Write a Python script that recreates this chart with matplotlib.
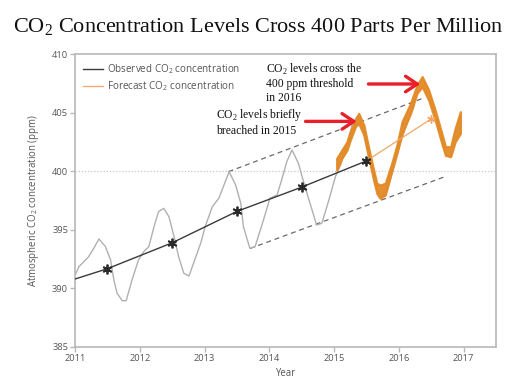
import matplotlib
matplotlib.use("Agg")
import matplotlib.pyplot as plt

# ---------------- data ----------------
obs_t = [2011.00, 2011.06, 2011.21, 2011.29, 2011.37, 2011.47, 2011.55, 2011.60, 2011.65,
         2011.73, 2011.79, 2011.88, 2011.98, 2012.06, 2012.14, 2012.22, 2012.29, 2012.37,
         2012.45, 2012.53, 2012.60, 2012.68, 2012.76, 2012.83, 2012.94, 2013.01, 2013.12,
         2013.22, 2013.30, 2013.38, 2013.48, 2013.56, 2013.60, 2013.70, 2013.78, 2013.91,
         2014.01, 2014.12, 2014.19, 2014.27, 2014.35, 2014.45, 2014.55, 2014.66, 2014.73,
         2014.81, 2014.92, 2015.02, 2015.10, 2015.20, 2015.28, 2015.35, 2015.43, 2015.53,
         2015.64, 2015.71, 2015.82, 2015.92, 2016.02, 2016.13, 2016.23]
obs_ppm = [391.1, 391.85, 392.70, 393.42, 394.22, 393.56, 392.42, 390.72, 389.58,
           388.95, 388.95, 390.72, 392.42, 393.13, 393.56, 395.27, 396.55, 396.83,
           396.12, 394.41, 392.70, 391.29, 391.06, 392.14, 393.85, 395.27, 396.97,
           397.69, 398.82, 399.96, 398.82, 397.26, 395.27, 393.42, 393.56, 395.84,
           397.69, 397.97, 399.25, 400.81, 401.81, 400.67, 398.68, 396.69, 395.41,
           395.55, 397.54, 399.53, 400.53, 402.38, 403.94, 404.65, 403.80, 401.53,
           399.25, 397.69, 398.40, 400.38, 402.38, 404.09, 405.50]

trend_t = [2011.0, 2011.5, 2012.5, 2013.5, 2014.5, 2015.5]
trend_ppm = [390.8, 391.68, 393.89, 396.57, 398.64, 400.88]

fc_trend_t = [2015.5, 2016.49]
fc_trend_ppm = [400.88, 404.43]

band_t = [2015.04, 2015.12, 2015.20, 2015.25, 2015.33, 2015.38, 2015.46, 2015.53, 2015.61,
          2015.66, 2015.71, 2015.79, 2015.89, 2015.97, 2016.05, 2016.18, 2016.28, 2016.36,
          2016.46, 2016.56, 2016.67, 2016.72, 2016.80, 2016.87, 2016.95]
band_hi = [401.10, 401.81, 402.52, 403.37, 404.37, 404.94, 403.94, 402.09, 400.10,
           398.97, 398.82, 398.97, 400.67, 402.24, 404.23, 405.79, 407.35, 408.07,
           406.93, 405.22, 403.09, 402.09, 402.09, 403.66, 405.08]
band_lo = [400.10, 401.10, 401.81, 402.66, 403.80, 404.08, 403.09, 401.24, 399.25,
           398.11, 397.69, 397.97, 399.96, 401.52, 403.23, 404.94, 406.64, 407.21,
           406.08, 404.37, 402.24, 401.35, 401.24, 402.52, 403.23]

upper_t = [2013.37, 2016.37]
upper_ppm = [399.96, 406.22]
lower_t = [2013.70, 2016.72]
lower_ppm = [393.40, 399.55]

xticks = [2011, 2012, 2013, 2014, 2015, 2016, 2017]
yticks = [385, 390, 395, 400, 405, 410]

arrow1_from = (2014.56, 404.25)
arrow1_to = (2015.35, 404.25)
arrow2_from = (2015.53, 407.44)
arrow2_to = (2016.33, 407.44)

title = "CO$_\\mathregular{2}$ Concentration Levels Cross 400 Parts Per Million"
note1 = "CO$_\\mathregular{2}$ levels cross the\n400 ppm threshold\nin 2016"
note2 = "CO$_\\mathregular{2}$ levels briefly\nbreached in 2015"

# ---------------- style ----------------
SANS = ["Open Sans", "DejaVu Sans"]
SERIF = ["Liberation Serif", "DejaVu Serif"]
plt.rcParams["font.family"] = SANS

fig = plt.figure(figsize=(5.21, 3.92), dpi=100)
ax = fig.add_axes([75 / 521, 45 / 392, 421 / 521, 293 / 392])

grey_tick = "#555555"
spine_c = "#b8b8b8"

ax.set_xlim(2011, 2017.5)
ax.set_ylim(385, 410)
ax.set_xticks(xticks)
ax.set_yticks(yticks)
ax.tick_params(axis="both", colors=spine_c, labelcolor=grey_tick, labelsize=6.7,
               length=3.5, width=1, pad=1.5)
for s in ax.spines.values():
    s.set_color(spine_c)
    s.set_linewidth(1.2)

ax.axhline(400, color="#c8c8c8", lw=0.9, ls=(0, (1, 1.5)), zorder=1)

ax.plot(upper_t, upper_ppm, color="#6a6a6a", lw=0.9, ls=(0, (4, 3)), zorder=2)
ax.plot(lower_t, lower_ppm, color="#6a6a6a", lw=0.9, ls=(0, (4, 3)), zorder=2)

ax.plot(obs_t, obs_ppm, color="#b0b0b0", lw=1.0, zorder=2)

ax.fill_between(band_t, band_lo, band_hi, color="#e38a26", lw=1.6, ec="#e38a26",
                zorder=3, alpha=0.95)

ax.plot(trend_t, trend_ppm, color="#3a3a3a", lw=1.0, zorder=4,
        label="Observed CO$_\\mathregular{2}$ concentration")
ax.plot(trend_t[1:], trend_ppm[1:], ls="none", marker=(6, 2, 0), ms=7, mew=1.3,
        color="#2a2a2a", zorder=5)
ax.plot(fc_trend_t, fc_trend_ppm, color="#f2a766", lw=0.9, zorder=4,
        label="Forecast CO$_\\mathregular{2}$ concentration")
ax.plot(fc_trend_t[1:], fc_trend_ppm[1:], ls="none", marker=(6, 2, 0), ms=6, mew=1.0,
        color="#f2a766", zorder=5)

leg = ax.legend(loc="upper left", bbox_to_anchor=(0.0, 1.0), frameon=False,
                fontsize=7.1, handlelength=2.0, handletextpad=0.35, labelspacing=0.3,
                borderaxespad=0.45)
for t in leg.get_texts():
    t.set_color(grey_tick)

ax.set_xlabel("Year", fontsize=6.9, color=grey_tick, labelpad=4)
ax.set_ylabel("Atmospheric CO$_\\mathregular{2}$ concentration (ppm)", fontsize=6.9,
              color=grey_tick, labelpad=8)

arrow_kw = dict(arrowstyle="->,head_length=0.6,head_width=0.4", color="#e8202a",
                lw=2.4, mutation_scale=14, shrinkA=0, shrinkB=0)
ax.annotate("", xy=arrow1_to, xytext=arrow1_from, arrowprops=arrow_kw, zorder=6)
ax.annotate("", xy=arrow2_to, xytext=arrow2_from, arrowprops=arrow_kw, zorder=6)

ax.text(2013.95, 407.53, note1, family=SERIF, fontsize=8.4, color="#111111",
        ha="left", va="center", linespacing=1.2, zorder=7)
ax.text(2013.18, 404.2, note2, family=SERIF, fontsize=8.4, color="#111111",
        ha="left", va="center", linespacing=1.2, zorder=7)

fig.text(0.495, 0.93, title, family=SERIF, fontsize=16, color="#111111",
         ha="center", va="center")

fig.savefig("out.png", dpi=100)
